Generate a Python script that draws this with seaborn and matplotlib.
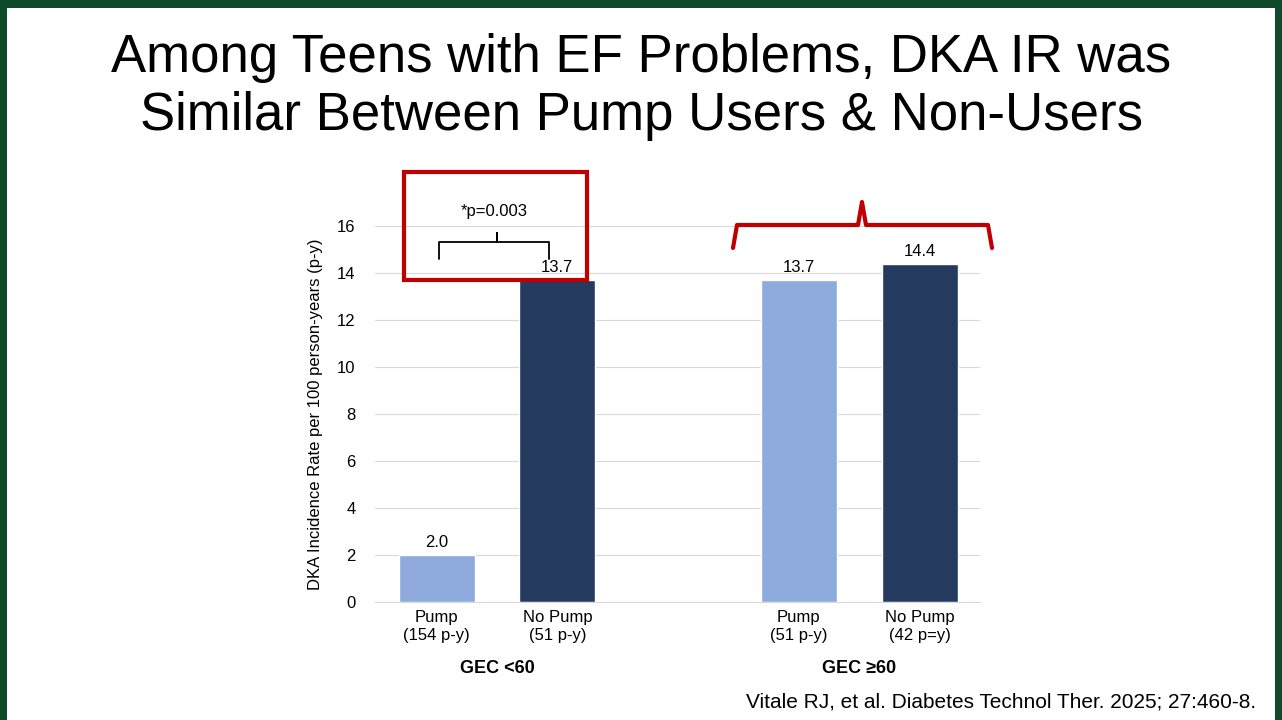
import matplotlib
matplotlib.use("Agg")
import matplotlib.pyplot as plt
from matplotlib.patches import Rectangle
import pandas as pd
import seaborn as sns

# data
positions = [0, 1, 3, 4]
groups = ["Pump", "No Pump", "Pump", "No Pump"]
values = [2.0, 13.7, 13.7, 14.4]
tick_labels = ["Pump\n(154 p-y)", "No Pump\n(51 p-y)", "Pump\n(51 p-y)", "No Pump\n(42 p=y)"]
group_labels = ["GEC <60", "GEC \u226560"]

df = pd.DataFrame({"pos": positions, "group": groups, "value": values})

sns.set_style("white")
plt.rcParams["font.family"] = ["Liberation Sans", "DejaVu Sans"]
plt.rcParams["text.color"] = "black"
plt.rcParams["axes.labelcolor"] = "black"
plt.rcParams["xtick.color"] = "black"
plt.rcParams["ytick.color"] = "black"

fig = plt.figure(figsize=(12.82, 7.2), dpi=100)
fig.patch.set_facecolor("#0f4a2a")
bg = Rectangle((7 / 1282, 0), 1 - 14 / 1282, 1 - 8 / 720, transform=fig.transFigure,
               facecolor="white", edgecolor="none", zorder=-10)
fig.patches.append(bg)

ax = fig.add_axes([375 / 1282, 118 / 720, 605 / 1282, 376 / 720])
sns.barplot(data=df, x="pos", y="value", hue="group", native_scale=True,
            palette={"Pump": "#8faadc", "No Pump": "#243a5e"}, width=0.63,
            saturation=1, dodge=False, legend=False, ax=ax)
ax.set_xlim(-0.51, 4.5)
ax.set_ylim(0, 16)
ax.set_yticks(range(0, 17, 2))
ax.yaxis.grid(True, color="#d9d9d9", linewidth=0.8)
ax.set_axisbelow(True)
for s in ["top", "right", "left"]:
    ax.spines[s].set_visible(False)
ax.spines["bottom"].set_color("#d9d9d9")
ax.set_xticks(positions)
ax.set_xticklabels(tick_labels, fontsize=12)
ax.tick_params(axis="y", labelsize=12, length=0, pad=14)
ax.tick_params(axis="x", length=0, pad=6)
ax.set_xlabel("")
ax.set_ylabel("DKA Incidence Rate per 100 person-years (p-y)", fontsize=12, labelpad=10)

for p, v in zip(positions, values):
    ax.text(p, v + 0.2, f"{v:.1f}", ha="center", va="bottom", fontsize=12)

ax.text(0.5, -0.155, group_labels[0], transform=ax.get_xaxis_transform(), ha="center",
        va="top", fontsize=13, fontweight="bold")
ax.text(3.5, -0.155, group_labels[1], transform=ax.get_xaxis_transform(), ha="center",
        va="top", fontsize=13, fontweight="bold")

# black brace over first group
bx = [0.02, 0.02, 0.5, 0.5, 0.5, 0.93, 0.93]
by = [14.6, 15.3, 15.3, 15.7, 15.3, 15.3, 14.6]
ax.plot(bx, by, color="black", lw=1.3, clip_on=False)
ax.text(0.48, 16.3, "*p=0.003", ha="center", va="bottom", fontsize=12)

# red box and red brace (figure coordinates)
fig.patches.append(Rectangle((404 / 1282, 1 - 280 / 720), 183 / 1282, 108 / 720,
                             transform=fig.transFigure, fill=False,
                             edgecolor="#c00000", lw=3))
rx = [733, 737, 858, 862, 866, 988, 992]
ry = [248, 225, 225, 202, 225, 225, 248]
fig.lines.append(plt.Line2D([x / 1282 for x in rx], [1 - y / 720 for y in ry],
                            transform=fig.transFigure, color="#c00000", lw=3))

fig.text(0.5, 1 - 87 / 720, "Among Teens with EF Problems, DKA IR was\nSimilar Between Pump Users & Non-Users",
         ha="center", va="center", fontsize=38, linespacing=1.2)
fig.text(1256 / 1282, 1 - 702 / 720, "Vitale RJ, et al. Diabetes Technol Ther. 2025; 27:460-8.",
         ha="right", va="center", fontsize=15)

fig.savefig("out.png", dpi=100, facecolor=fig.get_facecolor())
